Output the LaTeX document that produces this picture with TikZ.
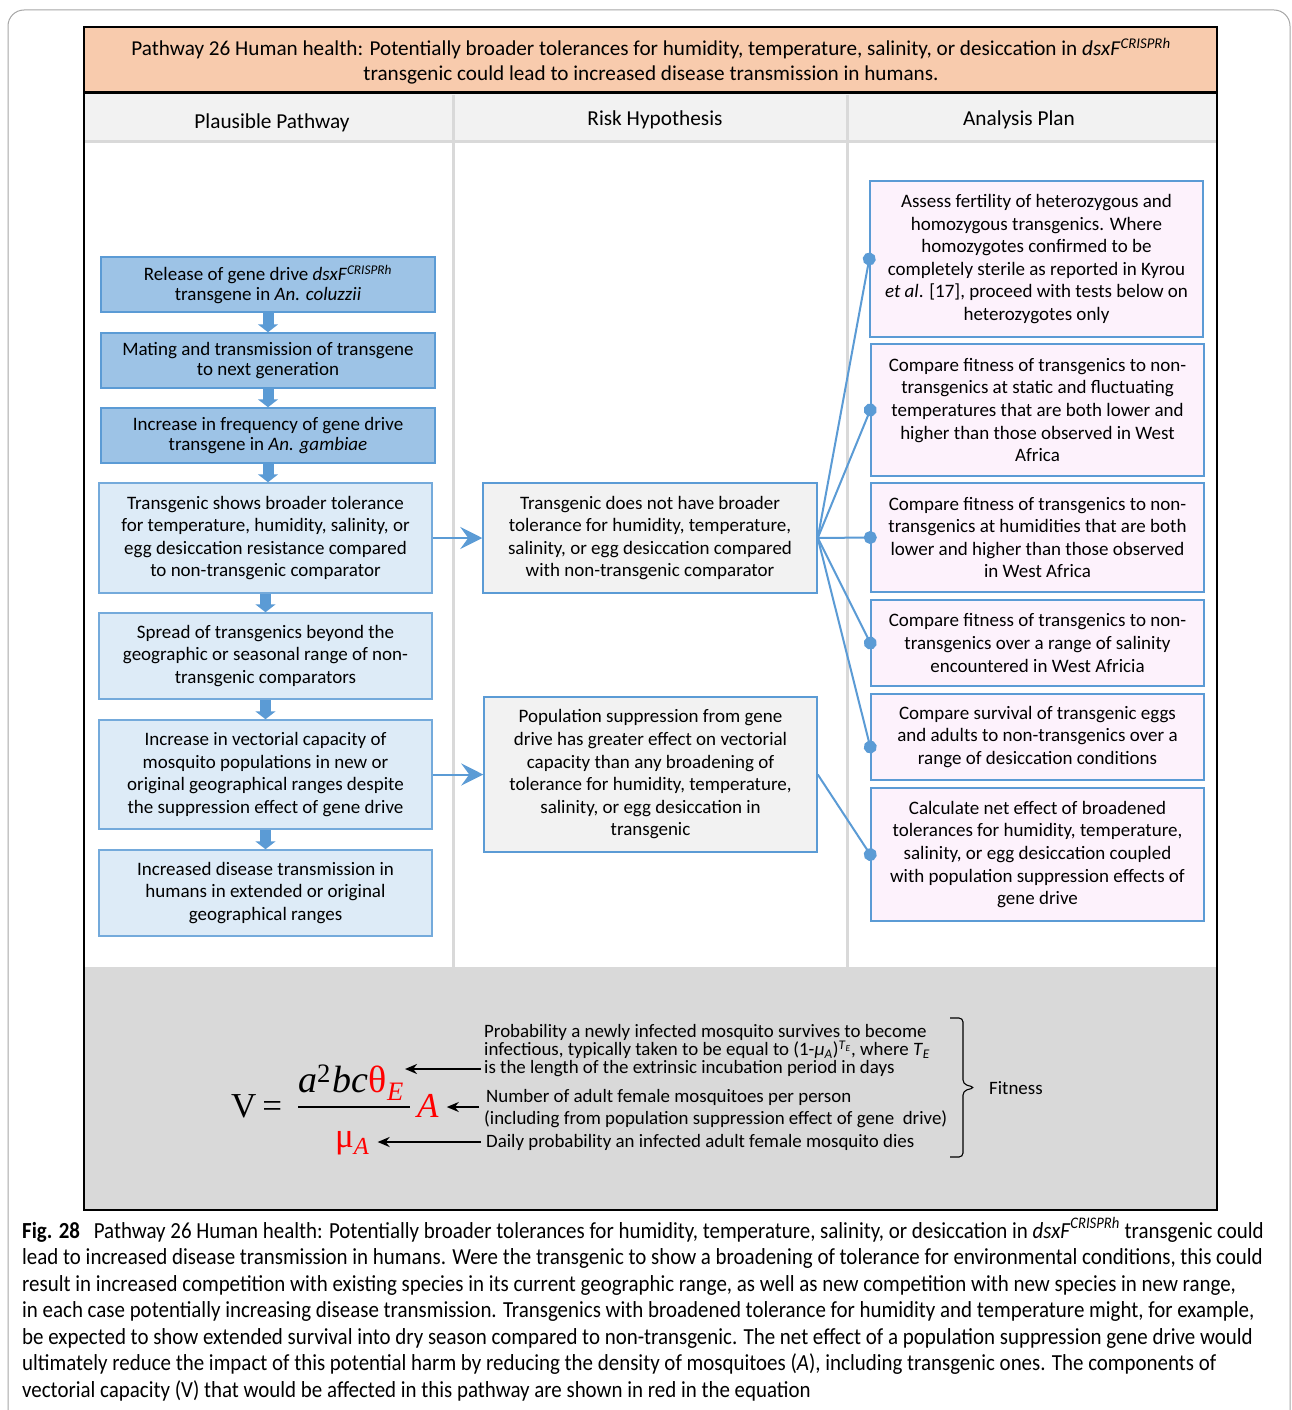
\documentclass[tikz,border=0pt]{standalone}
\usepackage{fontspec}
\setmainfont{Carlito}
\newfontfamily\eqserif{Liberation Serif}
\newfontfamily\capfont[FakeStretch=0.91]{Carlito}
\usetikzlibrary{arrows.meta,calc}

\definecolor{peach}{HTML}{F8CBAD}
\definecolor{hdrgray}{HTML}{F2F2F2}
\definecolor{linegray}{HTML}{D9D9D9}
\definecolor{bandgray}{HTML}{D9D9D9}
\definecolor{bluedark}{HTML}{9DC3E6}
\definecolor{bluelight}{HTML}{DDEBF7}
\definecolor{blueline}{HTML}{5B9BD5}
\definecolor{pinkfill}{HTML}{FDF2FC}
\definecolor{framegray}{HTML}{A6A6A6}

\tikzset{
 boxtext/.style={font=\fontsize{19}{22.6}\selectfont, align=center, inner sep=0pt},
 darkbox/.style={boxtext, draw=blueline, fill=bluedark, line width=1.5pt, font=\fontsize{19}{19.5}\selectfont},
 lightbox/.style={boxtext, draw=blueline!85, fill=bluelight, line width=1.5pt},
 riskbox/.style={boxtext, draw=blueline, fill=hdrgray, line width=1.5pt},
 planbox/.style={boxtext, draw=blueline, fill=pinkfill, line width=1.5pt},
 downarrow/.style={draw=blueline, line width=11pt, -{Triangle[width=20pt,length=8pt]}},
 rightarrow/.style={draw=blueline, line width=2pt, -{Stealth[width=22pt,length=22pt,inset=8pt]}},
 dotline/.style={draw=blueline, line width=2pt, -{Circle[length=13pt]}, shorten >=-6.5pt},
 eqarrow/.style={draw=black, line width=2pt, -{Stealth[width=10pt,length=12pt]}},
 eqtext/.style={font=\fontsize{18.9}{18.5}\selectfont, align=left, inner sep=0pt, anchor=west},
 captext/.style={font=\capfont\fontsize{23}{26.5}\selectfont, inner sep=0pt, anchor=base west},
 hdrtext/.style={font=\fontsize{21.3}{24}\selectfont, inner sep=0pt},
 eqpart/.style={font=\eqserif\fontsize{35}{35}\selectfont, inner sep=0pt, anchor=base west},
}

\begin{document}
\begin{tikzpicture}[x=1pt,y=-1pt]
\useasboundingbox (0,0) rectangle (1292,1410);
\clip (0,0) rectangle (1292,1410);
\fill[white] (0,0) rectangle (1292,1410);
\draw[framegray, line width=1pt, rounded corners=16pt] (8,10) rectangle (1290,1450);

% table backgrounds
\fill[peach] (84,27) rectangle (1217,93);
\fill[hdrgray] (84,93) rectangle (1217,141);
\fill[white] (84,141) rectangle (1217,967);
\fill[bandgray] (84,967) rectangle (1217,1210);
\draw[linegray, line width=3pt] (453,95) -- (453,967);
\draw[linegray, line width=3pt] (847,95) -- (847,967);
\draw[linegray, line width=3pt] (84,141) -- (1217,141);
\draw[black, line width=3pt] (84,93) -- (1217,93);
\draw[black, line width=2.5pt] (84,27) rectangle (1217,1210);

% title and headers
\node[font=\fontsize{21.2}{25}\selectfont, align=center, inner sep=0pt] (title) at (651,61)
 {Pathway 26 Human health: Potentially broader tolerances for humidity, temperature, salinity, or desiccation in \textit{dsxF}\textsuperscript{\textit{CRISPRh}}\\transgenic could lead to increased disease transmission in humans.};
\node[hdrtext] (h1) at (272,123) {Plausible Pathway};
\node[hdrtext] (h2) at (655,120) {Risk Hypothesis};
\node[hdrtext] (h3) at (1019,120) {Analysis Plan};

% plausible pathway
\node[darkbox, minimum width=334, minimum height=55] (p1) at (268,284.5)
 {Release of gene drive \textit{dsxF}\textsuperscript{\textit{CRISPRh}}\\transgene in \textit{An. coluzzii}};
\node[darkbox, minimum width=334, minimum height=55] (p2) at (268,360.5)
 {Mating and transmission of transgene\\to next generation};
\node[darkbox, minimum width=334, minimum height=55] (p3) at (268,435.5)
 {Increase in frequency of gene drive\\transgene in \textit{An. gambiae}};
\node[lightbox, minimum width=333, minimum height=110] (p4) at (265.5,538)
 {Transgenic shows broader tolerance\\for temperature, humidity, salinity, or\\egg desiccation resistance compared\\to non-transgenic comparator};
\node[lightbox, minimum width=333, minimum height=86] (p5) at (265.5,656)
 {Spread of transgenics beyond the\\geographic or seasonal range of non-\\transgenic comparators};
\node[lightbox, minimum width=333, minimum height=109] (p6) at (265.5,774.5)
 {Increase in vectorial capacity of\\mosquito populations in new or\\original geographical ranges despite\\the suppression effect of gene drive};
\node[lightbox, minimum width=333, minimum height=86] (p7) at (265.5,893)
 {Increased disease transmission in\\humans in extended or original\\geographical ranges};

\draw[downarrow] (p1.south) -- (p2.north);
\draw[downarrow] (p2.south) -- (p3.north);
\draw[downarrow] (p3.south) -- (p4.north -| p3.south);
\draw[downarrow] (p4.south) -- (p5.north);
\draw[downarrow] (p5.south) -- (p6.north);
\draw[downarrow] (p6.south) -- (p7.north);

% risk hypothesis
\node[riskbox, minimum width=334, minimum height=110] (rh1) at (650,538)
 {Transgenic does not have broader\\tolerance for humidity, temperature,\\salinity, or egg desiccation compared\\with non-transgenic comparator};
\node[riskbox, minimum width=333, minimum height=155] (rh2) at (650.5,774.5)
 {Population suppression from gene\\drive has greater effect on vectorial\\capacity than any broadening of\\tolerance for humidity, temperature,\\salinity, or egg desiccation in\\transgenic};

\draw[rightarrow] (p4.east) -- (rh1.west);
\draw[rightarrow] (p6.east) -- (rh2.west);

% analysis plan
\node[planbox, minimum width=333, minimum height=156] (a1) at (1036.5,259)
 {Assess fertility of heterozygous and\\homozygous transgenics. Where\\homozygotes confirmed to be\\completely sterile as reported in Kyrou\\\textit{et al}. [17], proceed with tests below on\\heterozygotes only};
\node[planbox, minimum width=333, minimum height=132] (a2) at (1037.5,410)
 {Compare fitness of transgenics to non-\\transgenics at static and fluctuating\\temperatures that are both lower and\\higher than those observed in West\\Africa};
\node[planbox, minimum width=333, minimum height=109] (a3) at (1037.5,537.5)
 {Compare fitness of transgenics to non-\\transgenics at humidities that are both\\lower and higher than those observed\\in West Africa};
\node[planbox, minimum width=333, minimum height=86] (a4) at (1037.5,643)
 {Compare fitness of transgenics to non-\\transgenics over a range of salinity\\encountered in West Africia};
\node[planbox, minimum width=333, minimum height=86] (a5) at (1037.5,737)
 {Compare survival of transgenic eggs\\and adults to non-transgenics over a\\range of desiccation conditions};
\node[planbox, minimum width=333, minimum height=133] (a6) at (1037.5,854.5)
 {Calculate net effect of broadened\\tolerances for humidity, temperature,\\salinity, or egg desiccation coupled\\with population suppression effects of\\gene drive};

\draw[dotline] (rh1.east) -- (a1.west);
\draw[dotline] (rh1.east) -- (a2.west);
\draw[dotline] (rh1.east) -- (a3.west);
\draw[dotline] (rh1.east) -- (a4.west);
\draw[dotline] (rh1.east) -- ($(a5.west)+(0,10)$);
\draw[dotline] (rh2.east) -- (a6.west);

% equation
\node[eqpart] (veq) at (231,1117) {V\,=};
\node[eqpart, font=\eqserif\fontsize{38}{38}\selectfont] (num) at (298,1092) {\itshape a\textsuperscript{\upshape 2}\kern1pt bc\kern1pt\textcolor{red}{\upshape θ\textsubscript{\itshape E}}};
\coordinate (barl) at (298,1107);
\coordinate (barr) at (410,1107);
\draw[black, line width=2.5pt] (barl) -- (barr);
\node[eqpart, text=red] (Aeq) at (417,1117) {\itshape A};
\node[eqpart, text=red] (mu) at (335,1147) {μ\textsubscript{\itshape A}};

\node[eqtext] (t1a) at (484,1032) {Probability a newly infected mosquito survives to become};
\node[eqtext] (t1b) at (484,1050) {infectious, typically taken to be equal to (1-\textit{μ}\textsubscript{\textit{A}})\textsuperscript{\textit{T}\textsubscript{\textit{E}}}, where \textit{T}\textsubscript{\textit{E}}};
\node[eqtext] (t1c) at (484,1069) {is the length of the extrinsic incubation period in days};
\node[eqtext] (t2a) at (486,1097) {Number of adult female mosquitoes per person};
\node[eqtext] (t2b) at (484,1119) {(including from population suppression effect of gene\ \ drive)};
\node[eqtext] (t3) at (486,1142) {Daily probability an infected adult female mosquito dies};
\coordinate (t2tail) at (479,1107);

\draw[eqarrow, shorten <=3pt, shorten >=1pt] (t1c.west) -- (t1c.west -| num.east);
\draw[eqarrow, shorten >=8pt] (t2tail) -- (t2tail -| Aeq.east);
\draw[eqarrow, shorten <=5pt, shorten >=8pt] (t3.west) -- (t3.west -| mu.east);

\draw[black, line width=1.1pt, rounded corners=4pt] (950,1018) -- (963,1018) -- (963,1084) -- (975,1087.5) -- (963,1091) -- (963,1157) -- (950,1157);
\node[font=\fontsize{18.9}{22}\selectfont, inner sep=0pt, anchor=west] (fit) at (989,1088) {Fitness};

% caption
\node[captext] (c1) at (22,1238) {\textbf{Fig. 28}\hspace{0.6em}Pathway 26 Human health: Potentially broader tolerances for humidity, temperature, salinity, or desiccation in \textit{dsxF}\textsuperscript{\textit{CRISPRh}} transgenic could};
\node[captext] (c2) at (22,1264.5) {lead to increased disease transmission in humans. Were the transgenic to show a broadening of tolerance for environmental conditions, this could};
\node[captext] (c3) at (22,1291) {result in increased competition with existing species in its current geographic range, as well as new competition with new species in new range,};
\node[captext] (c4) at (22,1317.5) {in each case potentially increasing disease transmission. Transgenics with broadened tolerance for humidity and temperature might, for example,};
\node[captext] (c5) at (22,1344) {be expected to show extended survival into dry season compared to non-transgenic. The net effect of a population suppression gene drive would};
\node[captext] (c6) at (22,1370.5) {ultimately reduce the impact of this potential harm by reducing the density of mosquitoes (\textit{A}), including transgenic ones. The components of};
\node[captext] (c7) at (22,1397) {vectorial capacity (V) that would be affected in this pathway are shown in red in the equation};
\end{tikzpicture}
\end{document}
